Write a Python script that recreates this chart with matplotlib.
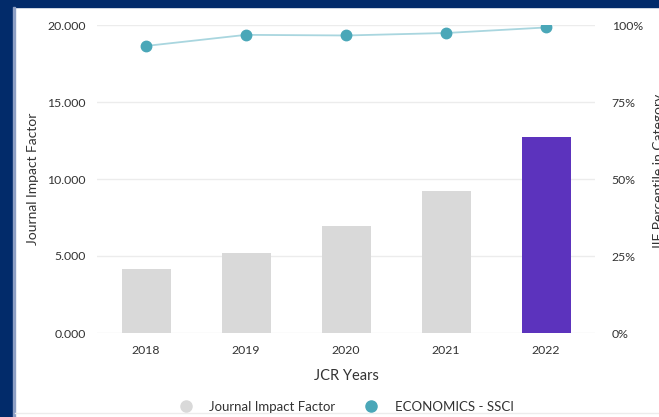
import matplotlib
matplotlib.use('Agg')
import matplotlib.pyplot as plt
from matplotlib.lines import Line2D
from matplotlib.patches import Rectangle
from matplotlib.ticker import FuncFormatter

years = ['2018', '2019', '2020', '2021', '2022']
jif = [4.16, 5.19, 6.98, 9.22, 12.73]
percentile = [93.2, 96.8, 96.6, 97.4, 99.2]
bar_colors = ['#d9d9d9', '#d9d9d9', '#d9d9d9', '#d9d9d9', '#5c33bd']

plt.rcParams['font.family'] = ['Lato', 'DejaVu Sans']
txt = '#333333'

fig = plt.figure(figsize=(6.59, 4.17), dpi=100)
fig.patch.set_facecolor('white')

# navy frame around the panel
fig.add_artist(Rectangle((0, 1 - 7/417), 1, 7/417, transform=fig.transFigure,
                         color='#022b6a', zorder=0))
fig.add_artist(Rectangle((0, 0), 13/659, 1, transform=fig.transFigure,
                         color='#022b6a', zorder=0))
fig.add_artist(Rectangle((13/659, 0), 2/659, 1 - 7/417, transform=fig.transFigure,
                         color='#8d9fc4', zorder=0))
fig.add_artist(Line2D([15/659, 1], [4/417, 4/417], transform=fig.transFigure,
                      color='#ececec', lw=1))

ax = fig.add_axes([97/659, 1 - 333/417, 498/659, 308/417])
x = range(len(years))
ax.bar(x, jif, width=0.49, color=bar_colors, zorder=2)
ax.set_xlim(-0.49, 4.49)
ax.set_ylim(0, 20)
ax.set_yticks([0, 5, 10, 15, 20])
ax.yaxis.set_major_formatter(FuncFormatter(lambda v, p: f'{v:.3f}'))
ax.set_xticks(list(x))
ax.set_xticklabels(years)
ax.grid(axis='y', color='#ececec', lw=1, zorder=0)
for s in ax.spines.values():
    s.set_visible(False)
ax.tick_params(axis='both', length=0, labelsize=8.8, colors=txt)
ax.tick_params(axis='x', pad=9)
ax.tick_params(axis='y', pad=8)
ax.set_ylabel('Journal Impact Factor', fontsize=10, color=txt, labelpad=6)
ax.set_xlabel('JCR Years', fontsize=10.5, color=txt, labelpad=9)

ax2 = ax.twinx()
ax2.plot(x, percentile, color='#a9d6df', lw=1.3, marker='o', markersize=7.5,
         markerfacecolor='#4aa7b8', markeredgecolor='#4aa7b8', zorder=3)
ax2.set_ylim(0, 100)
ax2.set_yticks([0, 25, 50, 75, 100])
ax2.yaxis.set_major_formatter(FuncFormatter(lambda v, p: f'{v:.0f}%'))
for s in ax2.spines.values():
    s.set_visible(False)
ax2.tick_params(axis='y', length=0, labelsize=8.8, colors=txt, pad=12)

fig.text(653/659, 1 - 172/417, 'JIF Percentile in Category', rotation=90,
         ha='left', va='center', fontsize=10, color=txt)

handles = [
    Line2D([], [], ls='none', marker='o', markersize=8, color='#d9d9d9'),
    Line2D([], [], ls='none', marker='o', markersize=8, color='#4aa7b8'),
]
fig.legend(handles, ['Journal Impact Factor', 'ECONOMICS - SSCI'], ncol=2,
           loc='center', bbox_to_anchor=(343/659, 1 - 407/417), frameon=False,
           fontsize=9.5, labelcolor=txt, handletextpad=0.8, columnspacing=1.7,
           borderpad=0)

fig.savefig('out.png', dpi=100)
